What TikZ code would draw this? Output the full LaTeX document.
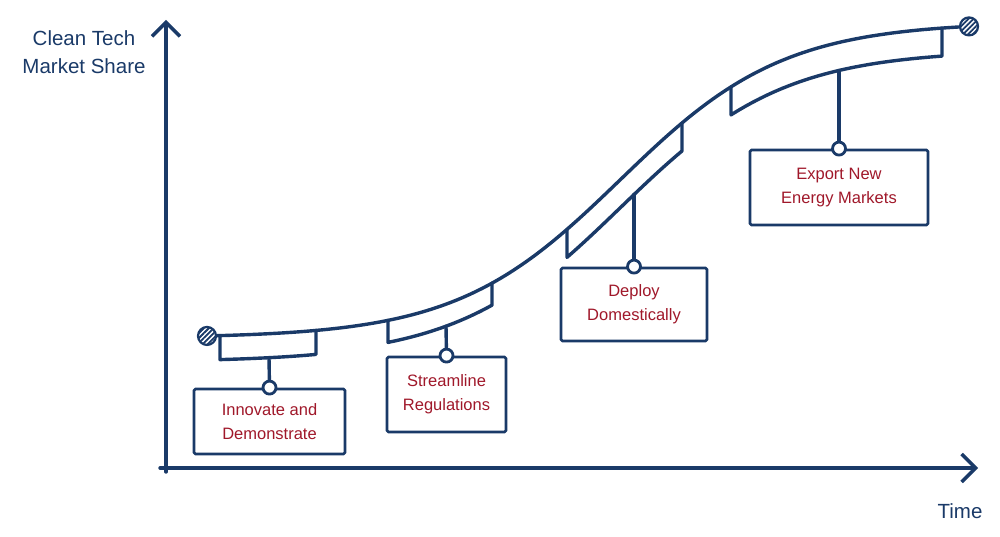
\documentclass[tikz,border=0pt]{standalone}
\usepackage{fontspec}
\setmainfont{Liberation Sans}
\usetikzlibrary{arrows.meta,patterns.meta}
\definecolor{navy}{HTML}{1A3A68}
\definecolor{redtext}{HTML}{A0182A}
\pgfmathdeclarefunction{sc}{1}{\pgfmathparse{338-316/(1+exp(-(#1-620)/82))}}
\begin{document}
\begin{tikzpicture}[x=1pt,y=-1pt,line join=round,line cap=round,
  ln/.style={draw=navy,line width=3.4pt},
  axis/.style={draw=navy,line width=3.4pt,-{Straight Barb[length=14pt,width=28pt]}},
  box/.style={draw=navy,line width=2.8pt,rounded corners=1.5pt,fill=white,text=redtext,align=center,inner sep=0pt,font=\fontsize{16.5}{24}\selectfont},
  knob/.style={circle,draw=navy,fill=white,line width=2.8pt,minimum size=13pt,inner sep=0pt},
  enddot/.style={circle,draw=navy,line width=2.2pt,minimum size=18pt,inner sep=0pt,preaction={fill=white},pattern={Lines[angle=45,distance=3.5pt,line width=1.8pt]},pattern color=navy},
  axlabel/.style={text=navy,align=center,font=\fontsize{20.5}{28}\selectfont}]
\useasboundingbox (0,0) rectangle (1000,537);
% axes
\coordinate (o) at (166,472);
\coordinate (ytip) at (166,20);
\coordinate (xs) at (160,468);
\coordinate (xtip) at (978,468);
\draw[axis] (o) -- (ytip);
\draw[axis] (xs) -- (xtip);
\node[axlabel] (yl) at (84,52) {Clean Tech\\Market Share};
\node[axlabel] (tl) at (960,511) {Time};
% S-curve
\draw[ln] plot[domain=207:969,samples=120] (\x,{sc(\x)});
% bands
\draw[ln] (220,{sc(220)}) -- (220,{sc(220)+24}) -- plot[domain=220:316,samples=20] (\x,{sc(\x)+24}) -- (316,{sc(316)});
\draw[ln] (388,{sc(388)}) -- (388,{sc(388)+22}) -- plot[domain=388:492,samples=20] (\x,{sc(\x)+22}) -- (492,{sc(492)});
\draw[ln] (567,{sc(567)}) -- (567,{sc(567)+28}) -- plot[domain=567:682,samples=20] (\x,{sc(\x)+28}) -- (682,{sc(682)});
\draw[ln] (731,{sc(731)}) -- (731,{sc(731)+28}) -- plot[domain=731:942,samples=30] (\x,{sc(\x)+28}) -- (942,{sc(942)});
% end dots
\node[enddot] (d0) at (207,{sc(207)}) {};
\node[enddot] (d1) at (969,{sc(969)}) {};
% boxes
\node[box,minimum width=151pt,minimum height=65pt] (b1) at (269.5,421.5) {Innovate and\\Demonstrate};
\node[box,minimum width=119pt,minimum height=75pt] (b2) at (446.5,394.5) {Streamline\\Regulations};
\node[box,minimum width=146pt,minimum height=73pt] (b3) at (634,304.5) {Deploy\\Domestically};
\node[box,minimum width=178pt,minimum height=75pt] (b4) at (839,187.5) {Export New\\Energy Markets};
% knobs
\node[knob] (k1) at (b1.north) {};
\node[knob] (k2) at (b2.north) {};
\node[knob] (k3) at (b3.north) {};
\node[knob] (k4) at (b4.north) {};
% stems
\coordinate (s1) at (269,{sc(269)+24});
\coordinate (s2) at (446,{sc(446)+22});
\coordinate (s3) at (634,{sc(634)+28});
\coordinate (s4) at (839,{sc(839)+28});
\draw[ln] (s1) -- (k1);
\draw[ln] (s2) -- (k2);
\draw[ln] (s3) -- (k3);
\draw[ln] (s4) -- (k4);
\end{tikzpicture}
\end{document}
